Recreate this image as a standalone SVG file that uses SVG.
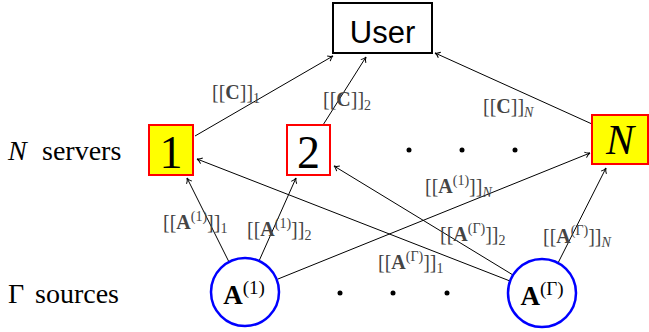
<svg xmlns="http://www.w3.org/2000/svg" width="649" height="332" viewBox="0 0 649 332">
<style>
.srv{fill:#ffff00;stroke:#ff0000;stroke-width:2}
.srv2{fill:#ffffff;stroke:#ff0000;stroke-width:2}
.src{fill:#ffffff;stroke:#0000ff;stroke-width:2.5}
.e{stroke:#000;stroke-width:1;fill:none;marker-end:url(#ah)}
.t{font-family:"Liberation Serif","DejaVu Serif",serif;fill:#000}
.lb{font-family:"Liberation Serif","DejaVu Serif",serif;fill:#444;font-size:20px}
.b{font-weight:bold}
.i{font-style:italic}
.dot{fill:#000}
</style>
<defs>
<marker id="ah" markerWidth="8" markerHeight="8" refX="6" refY="4" orient="auto" markerUnits="userSpaceOnUse">
<path d="M1,1 Q3.5,3.5 6,4 Q3.5,4.5 1,7" fill="none" stroke="#000" stroke-width="1"/>
</marker>
</defs>
<g id="connectors">
<line class="e" x1="195" y1="136" x2="333" y2="56"/>
<line class="e" x1="323" y1="125" x2="366" y2="57"/>
<line class="e" x1="592" y1="124" x2="435" y2="53"/>
<line class="e" x1="229" y1="262" x2="187" y2="178"/>
<line class="e" x1="259" y1="261" x2="296" y2="178"/>
<line class="e" x1="278" y1="279" x2="590" y2="153"/>
<line class="e" x1="510" y1="281" x2="197" y2="159"/>
<line class="e" x1="513" y1="275" x2="334" y2="166"/>
<line class="e" x1="558" y1="263" x2="606" y2="168"/>
</g>
<g id="user">
<rect x="333" y="3" width="99" height="50" fill="#fff" stroke="#000" stroke-width="2"/>
<text x="382.5" y="43" text-anchor="middle" font-family="'Liberation Sans','DejaVu Sans',sans-serif" font-size="31">User</text>
</g>
<g id="server1">
<rect class="srv" x="149" y="125" width="44" height="50"/>
<text class="t" x="171" y="168" text-anchor="middle" font-size="46">1</text>
</g>
<g id="server2">
<rect class="srv2" x="287" y="125" width="43" height="50"/>
<text class="t" x="308.5" y="168" text-anchor="middle" font-size="46">2</text>
</g>
<g id="serverN">
<rect class="srv" x="592" y="115" width="56" height="49"/>
<text class="t i" x="620" y="154" text-anchor="middle" font-size="42">N</text>
</g>
<g id="server-dots">
<circle class="dot" cx="409" cy="150" r="2.5"/>
<circle class="dot" cx="462" cy="150" r="2.5"/>
<circle class="dot" cx="515" cy="150" r="2.5"/>
</g>
<g id="source1">
<circle class="src" cx="245" cy="292" r="34"/>
<text class="t" x="244" y="304" text-anchor="middle" font-size="27"><tspan class="b">A</tspan><tspan font-size="19" dy="-10">(1)</tspan></text>
</g>
<g id="sourceG">
<circle class="src" cx="542" cy="293" r="34"/>
<text class="t" x="542" y="305" text-anchor="middle" font-size="27"><tspan class="b">A</tspan><tspan font-size="19" dy="-10">(Γ)</tspan></text>
</g>
<g id="source-dots">
<circle class="dot" cx="340" cy="293" r="2.5"/>
<circle class="dot" cx="393" cy="293" r="2.5"/>
<circle class="dot" cx="447" cy="293" r="2.5"/>
</g>
<g id="row-labels">
<text class="t" x="8" y="160" font-size="28"><tspan class="i">N</tspan><tspan x="42">servers</tspan></text>
<text class="t" x="8" y="303" font-size="28">Γ<tspan x="35">sources</tspan></text>
</g>
<g id="edge-labels">
<text class="lb" x="212" y="99">[[<tspan class="b">C</tspan>]]<tspan font-size="14" dy="4">1</tspan></text>
<text class="lb" x="323" y="106">[[<tspan class="b">C</tspan>]]<tspan font-size="14" dy="4">2</tspan></text>
<text class="lb" x="483" y="113">[[<tspan class="b">C</tspan>]]<tspan font-size="14" dy="4" class="i">N</tspan></text>
<text class="lb" x="163" y="229">[[<tspan class="b">A</tspan><tspan font-size="14" dy="-8">(1)</tspan><tspan dy="8">]]</tspan><tspan font-size="14" dy="4">1</tspan></text>
<text class="lb" x="247" y="236">[[<tspan class="b">A</tspan><tspan font-size="14" dy="-8">(1)</tspan><tspan dy="8">]]</tspan><tspan font-size="14" dy="4">2</tspan></text>
<text class="lb" x="425" y="193">[[<tspan class="b">A</tspan><tspan font-size="14" dy="-8">(1)</tspan><tspan dy="8">]]</tspan><tspan font-size="14" dy="4" class="i">N</tspan></text>
<text class="lb" x="440" y="241">[[<tspan class="b">A</tspan><tspan font-size="14" dy="-8">(Γ)</tspan><tspan dy="8">]]</tspan><tspan font-size="14" dy="4">2</tspan></text>
<text class="lb" x="378" y="269">[[<tspan class="b">A</tspan><tspan font-size="14" dy="-8">(Γ)</tspan><tspan dy="8">]]</tspan><tspan font-size="14" dy="4">1</tspan></text>
<text class="lb" x="543" y="243">[[<tspan class="b">A</tspan><tspan font-size="14" dy="-8">(Γ)</tspan><tspan dy="8">]]</tspan><tspan font-size="14" dy="4" class="i">N</tspan></text>
</g>
</svg>
